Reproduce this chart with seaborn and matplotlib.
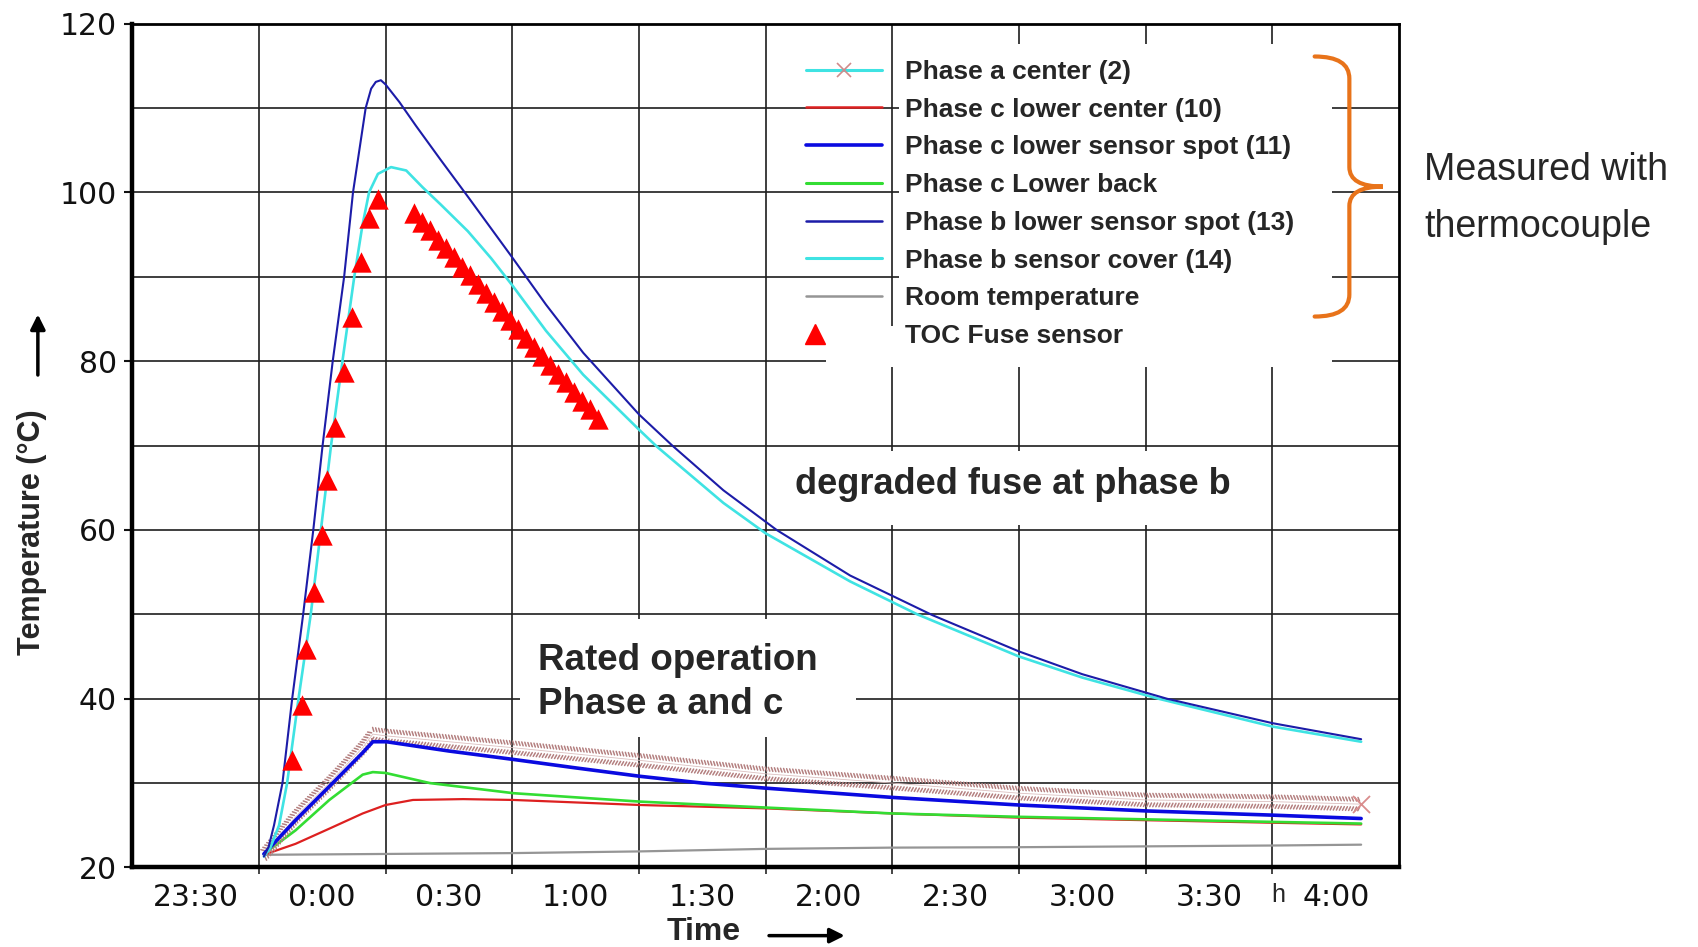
import matplotlib
matplotlib.use("Agg")
import matplotlib.pyplot as plt
import seaborn as sns
from matplotlib import font_manager
from matplotlib import patheffects as pe
from matplotlib.lines import Line2D
from matplotlib.patches import Rectangle, PathPatch
from matplotlib.path import Path
from matplotlib.legend_handler import HandlerLine2D

# ---------------------------------------------------------------------------
# Time axis (minutes relative to midnight) and temperature axis
# ---------------------------------------------------------------------------
tick_minutes = [-30, 0, 30, 60, 90, 120, 150, 180, 210, 240]
tick_labels = ["23:30", "0:00", "0:30", "1:00", "1:30", "2:00", "2:30", "3:00", "3:30", "4:00"]
grid_minutes = [-15, 15, 45, 75, 105, 135, 165, 195, 225]
temp_ticks = [20, 40, 60, 80, 100, 120]
temp_grid = [30, 50, 70, 90, 110]

# Phase a center (2)
phase_a_t = [-13.8, -6.3, 1.7, 9.6, 12.0, 15.0, 45.0, 75.0, 105.0, 135.0, 165.0, 195.0, 225.0, 246.0]
phase_a_T = [21.5, 26.0, 30.0, 34.2, 35.8, 35.6, 34.2, 32.7, 31.1, 30.0, 28.8, 28.0, 27.8, 27.5]

# Phase c lower center (10)
phase_c10_t = [-13.8, -6.3, 1.7, 9.6, 15.0, 21.5, 33.4, 45.3, 75.3, 105.0, 135.0, 165.0, 195.0, 225.0, 246.0]
phase_c10_T = [21.5, 22.8, 24.6, 26.4, 27.4, 28.0, 28.1, 28.0, 27.4, 27.0, 26.4, 25.9, 25.6, 25.3, 25.1]

# Phase c lower sensor spot (11)
phase_c11_t = [-13.8, -6.3, 1.7, 9.6, 12.0, 15.2, 30.0, 45.3, 60.0, 75.3, 90.0, 105.0, 135.0, 165.0, 195.0, 225.0, 246.0]
phase_c11_T = [21.6, 25.6, 29.6, 33.6, 34.9, 34.9, 33.8, 32.8, 31.8, 30.8, 30.0, 29.4, 28.3, 27.4, 26.7, 26.2, 25.8]

# Phase c lower back
phase_cb_t = [-13.8, -6.3, 1.7, 9.6, 12.0, 15.0, 25.5, 45.3, 75.3, 105.0, 135.0, 165.0, 195.0, 225.0, 246.0]
phase_cb_T = [21.6, 24.4, 28.0, 31.0, 31.3, 31.2, 30.0, 28.8, 27.8, 27.1, 26.4, 26.0, 25.7, 25.4, 25.2]

# Phase b lower sensor spot (13)
phase_b13_t = [-13.8, -12.7, -11.4, -9.4, -7.1, -4.5, -2.1, 0.1, 2.5, 5.2, 7.3, 10.3, 11.6, 12.7, 13.9,
               15.0, 18.3, 22.2, 28.0, 34.5, 45.0, 53.0, 61.8, 75.0, 82.9, 95.0, 107.6, 125.0, 144.5,
               165.0, 180.0, 200.0, 225.0, 246.0]
phase_b13_T = [21.3, 22.4, 25.0, 30.0, 40.0, 50.0, 60.0, 70.0, 80.0, 90.0, 100.0, 110.0, 112.3, 113.1, 113.3,
               112.8, 110.7, 107.9, 103.9, 99.5, 92.3, 86.7, 81.0, 73.7, 70.0, 64.7, 60.0, 54.6, 49.9,
               45.6, 42.9, 40.0, 37.1, 35.2]

# Phase b sensor cover (14)
phase_b14_t = [-13.8, -12.3, -10.2, -8.3, -5.6, -2.7, -0.3, 2.1, 4.8, 7.6, 9.5, 11.1, 13.2, 16.3, 19.9,
               23.8, 28.0, 34.5, 40.0, 45.0, 53.0, 61.8, 75.0, 79.2, 95.0, 105.0, 125.0, 140.9, 165.0,
               180.0, 198.0, 225.0, 246.0]
phase_b14_T = [21.3, 22.3, 25.0, 30.0, 40.0, 50.0, 60.0, 70.0, 80.0, 90.0, 96.0, 100.0, 102.2, 103.0, 102.6,
               100.6, 98.6, 95.4, 92.2, 89.0, 83.6, 78.4, 71.9, 69.9, 63.2, 59.6, 53.9, 50.0, 45.0,
               42.5, 40.0, 36.7, 34.9]

# Room temperature
room_t = [-13.8, 15.0, 45.0, 75.0, 105.0, 135.0, 165.0, 195.0, 225.0, 246.0]
room_T = [21.5, 21.6, 21.7, 21.9, 22.2, 22.35, 22.4, 22.5, 22.6, 22.7]

# TOC fuse sensor readings
toc_t = [-7.1, -4.8, -3.85, -1.9, 0.0, 1.1, 3.1, 5.1, 7.0, 9.1, 11.1, 13.2,
         21.7, 23.6, 25.5, 27.4, 29.3, 31.2, 33.1, 35.0, 36.9, 38.8, 40.7, 42.6,
         44.5, 46.4, 48.3, 50.2, 52.1, 54.0, 55.9, 57.8, 59.7, 61.6, 63.5, 65.4]
toc_T = [32.7, 39.2, 45.9, 52.6, 59.4, 65.9, 72.2, 78.7, 85.2, 91.7, 97.0, 99.2,
         97.6, 96.5, 95.5, 94.4, 93.4, 92.3, 91.2, 90.2, 89.1, 88.1, 87.0, 85.9,
         84.9, 83.8, 82.8, 81.7, 80.6, 79.6, 78.5, 77.5, 76.4, 75.3, 74.3, 73.2]

legend_labels = ["Phase a center (2)", "Phase c lower center (10)", "Phase c lower sensor spot (11)",
                 "Phase c Lower back", "Phase b lower sensor spot (13)", "Phase b sensor cover (14)",
                 "Room temperature", "TOC Fuse sensor"]

# ---------------------------------------------------------------------------
# Style and fonts
# ---------------------------------------------------------------------------
sns.set_style("ticks")
plt.rcParams["font.family"] = ["DejaVu Sans"]

available = {f.name for f in font_manager.fontManager.ttflist}
sans = "Liberation Sans" if "Liberation Sans" in available else "DejaVu Sans"

C_CYAN = "#3fe3e3"
C_NAVY = "#1c1ca8"
C_BLUE = "#0a0ae0"
C_GREEN = "#33dd33"
C_RED = "#dd2020"
C_GRAY = "#959595"
C_HATCH = "#b48080"
C_TOC = "#ff0000"
C_BRACE = "#e8731a"


class LeftMarkerHandler(HandlerLine2D):
    """Legend handler that puts a single marker near the left end of the handle."""

    def get_xdata(self, legend, xdescent, ydescent, width, height, fontsize):
        xs = [-xdescent, -xdescent + 0.24 * width]
        return xs, [-xdescent + 0.12 * width]


fig = plt.figure(figsize=(16.98, 9.47), dpi=100)
ax = fig.add_axes([0.0778, 0.084, 0.824 - 0.0778, 0.975 - 0.084])
ax.set_axisbelow(True)


def draw(t, T, color, lw, z, **kw):
    sns.lineplot(x=t, y=T, ax=ax, color=color, linewidth=lw, zorder=z,
                 legend=False, estimator=None, sort=False, **kw)


# white blocks behind legend text and annotations
for (x0, y0, w, h) in [(136.5, 79.3, 102.6, 38.3), (119.4, 79.3, 17.1, 4.9),
                       (46.8, 35.5, 79.5, 13.9), (107.0, 60.6, 114.0, 8.8)]:
    ax.add_patch(Rectangle((x0, y0), w, h, facecolor="white", edgecolor="none", zorder=1))

draw(room_t, room_T, C_GRAY, 1.6, 2)
draw(phase_c10_t, phase_c10_T, C_RED, 1.6, 2.1)
draw(phase_cb_t, phase_cb_T, C_GREEN, 1.9, 2.2)

# Phase a center: hatched band made of ticks on both sides of the trace
hatch_fx = [
    pe.TickedStroke(offset=(0, 2.1), spacing=2.2, angle=115, length=1.35,
                    linewidth=1.1, foreground=C_HATCH),
    pe.TickedStroke(offset=(0, -2.1), spacing=2.2, angle=-115, length=1.35,
                    linewidth=1.1, foreground=C_HATCH),
    pe.Normal(),
]
draw(phase_a_t, phase_a_T, "#dcc0c0", 0.6, 2.3, path_effects=hatch_fx)
sns.scatterplot(x=[phase_a_t[-1]], y=[phase_a_T[-1]], ax=ax, marker="x", s=150,
                color="#d98c8c", linewidth=1.3, zorder=2.35, legend=False)

draw(phase_c11_t, phase_c11_T, C_BLUE, 2.6, 2.4)
draw(phase_b14_t, phase_b14_T, C_CYAN, 1.9, 2.5)
draw(phase_b13_t, phase_b13_T, C_NAVY, 1.5, 2.6)

sns.scatterplot(x=toc_t, y=toc_T, ax=ax, marker="^", s=215, color=C_TOC,
                linewidth=0, zorder=3, legend=False)

# axes, ticks and grid
ax.set_xlim(-45, 255)
ax.set_ylim(20, 120)
ax.set_xticks(tick_minutes)
ax.set_xticklabels(tick_labels)
ax.set_xticks(grid_minutes, minor=True)
ax.set_yticks(temp_ticks)
ax.set_yticklabels([str(v) for v in temp_ticks])
ax.set_yticks(temp_grid, minor=True)
ax.grid(False)
ax.grid(which="minor", axis="x", color="#1e1e1e", linewidth=1.2)
ax.grid(which="both", axis="y", color="#1e1e1e", linewidth=1.2)
ax.tick_params(axis="x", which="major", length=0, pad=11, labelsize=21.5, colors="#111111")
ax.tick_params(axis="x", which="minor", length=5, width=1.2, direction="out")
ax.tick_params(axis="y", which="major", length=6, width=1.5, pad=5, labelsize=21.5, colors="#111111")
ax.tick_params(axis="y", which="minor", length=0)
ax.set_xlabel("")
ax.set_ylabel("")
for side, lw in [("left", 3.2), ("bottom", 3.2), ("top", 2.0), ("right", 2.0)]:
    ax.spines[side].set_visible(True)
    ax.spines[side].set_linewidth(lw)
    ax.spines[side].set_color("black")

# legend
handles = [
    Line2D([], [], color=C_CYAN, lw=2.2, marker="x", markersize=10,
           markeredgecolor="#d08a8a", markeredgewidth=1.2),
    Line2D([], [], color=C_RED, lw=1.8),
    Line2D([], [], color=C_BLUE, lw=2.6),
    Line2D([], [], color=C_GREEN, lw=2.2),
    Line2D([], [], color=C_NAVY, lw=1.8),
    Line2D([], [], color=C_CYAN, lw=2.2),
    Line2D([], [], color=C_GRAY, lw=1.8),
    Line2D([], [], linestyle="none", marker="^", markersize=14, color=C_TOC),
]
leg = ax.legend(handles, legend_labels, loc="upper left", bbox_to_anchor=(0.532, 0.957),
                frameon=False, handlelength=2.87, handletextpad=0.86, labelspacing=0.52,
                borderpad=0, borderaxespad=0,
                handler_map={handles[-1]: LeftMarkerHandler()},
                prop=dict(family=sans, weight="bold", size=19))
leg.set_zorder(5)

# annotations inside the plot
ax.text(163.5, 65.4, "degraded fuse at phase b", ha="center", va="center",
        family=sans, weight="bold", size=26, zorder=4)
ax.text(51.2, 41.9, "Rated operation\nPhase a and c", ha="left", va="center",
        family=sans, weight="bold", size=26.5, linespacing=1.34, zorder=4)

# curly brace grouping the thermocouple channels
brace_verts = [
    (0.9333, 0.9611),
    (0.9607, 0.9611), (0.9607, 0.9350),
    (0.9607, 0.8300),
    (0.9607, 0.8069), (0.9872, 0.8069),
    (0.9607, 0.8069), (0.9607, 0.7840),
    (0.9607, 0.6790),
    (0.9607, 0.6529), (0.9333, 0.6529),
]
brace_codes = [Path.MOVETO,
               Path.CURVE3, Path.CURVE3,
               Path.LINETO,
               Path.CURVE3, Path.CURVE3,
               Path.CURVE3, Path.CURVE3,
               Path.LINETO,
               Path.CURVE3, Path.CURVE3]
ax.add_patch(PathPatch(Path(brace_verts, brace_codes), transform=ax.transAxes,
                       facecolor="none", edgecolor=C_BRACE, lw=3.0, zorder=5,
                       clip_on=False, capstyle="round"))

fig.text(0.8387, 0.790, "Measured with\nthermocouple", ha="left", va="center",
         family=sans, size=27, linespacing=1.75)

# axis titles with arrows
fig.text(0.0191, 0.438, "Temperature (°C)", rotation=90, ha="center", va="center",
         family=sans, weight="bold", size=22)
ax.annotate("", xy=(0.0223, 0.668), xytext=(0.0223, 0.604), xycoords="figure fraction",
            textcoords="figure fraction", annotation_clip=False,
            arrowprops=dict(arrowstyle="-|>", color="black", lw=2.5, mutation_scale=22,
                            shrinkA=0, shrinkB=0))
fig.text(0.4145, 0.016, "Time", ha="center", va="center",
         family=sans, weight="bold", size=23)
ax.annotate("", xy=(0.4975, 0.012), xytext=(0.4529, 0.012), xycoords="figure fraction",
            textcoords="figure fraction", annotation_clip=False,
            arrowprops=dict(arrowstyle="-|>", color="black", lw=2.5, mutation_scale=22,
                            shrinkA=0, shrinkB=0))
fig.text(0.7526, 0.0554, "h", ha="center", va="center", family=sans, size=18)

fig.savefig("out.png", dpi=100, facecolor="white")
